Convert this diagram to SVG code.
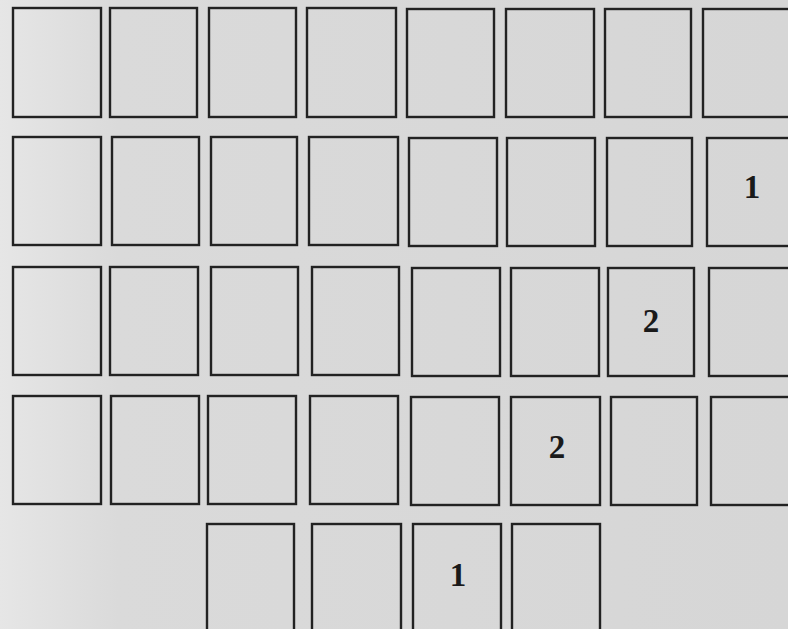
<svg xmlns="http://www.w3.org/2000/svg" width="788" height="629" viewBox="0 0 788 629">
<defs>
<linearGradient id="bg" x1="0" y1="0" x2="1" y2="0">
<stop offset="0" stop-color="#e6e6e6"/>
<stop offset="0.15" stop-color="#dadada"/>
<stop offset="1" stop-color="#d6d6d6"/>
</linearGradient>
</defs>
<style>
.c{fill:none;stroke:#222;stroke-width:2.4}
.n{font-family:"Liberation Serif","Times New Roman",serif;font-weight:bold;font-size:33px;fill:#1a1a1a;text-anchor:middle}
</style>
<rect x="0" y="0" width="788" height="629" fill="url(#bg)"/>
<g id="row1">
<g id="r1c1"><rect class="c" x="13" y="8" width="88" height="109"/></g>
<g id="r1c2"><rect class="c" x="110" y="8" width="87" height="109"/></g>
<g id="r1c3"><rect class="c" x="209" y="8" width="87" height="109"/></g>
<g id="r1c4"><rect class="c" x="307" y="8" width="89" height="109"/></g>
<g id="r1c5"><rect class="c" x="407" y="9" width="87" height="108"/></g>
<g id="r1c6"><rect class="c" x="506" y="9" width="88" height="108"/></g>
<g id="r1c7"><rect class="c" x="605" y="9" width="86" height="108"/></g>
<g id="r1c8"><rect class="c" x="703" y="9" width="100" height="108"/></g>
</g>
<g id="row2">
<g id="r2c1"><rect class="c" x="13" y="137" width="88" height="108"/></g>
<g id="r2c2"><rect class="c" x="112" y="137" width="87" height="108"/></g>
<g id="r2c3"><rect class="c" x="211" y="137" width="86" height="108"/></g>
<g id="r2c4"><rect class="c" x="309" y="137" width="89" height="108"/></g>
<g id="r2c5"><rect class="c" x="409" y="138" width="88" height="108"/></g>
<g id="r2c6"><rect class="c" x="507" y="138" width="88" height="108"/></g>
<g id="r2c7"><rect class="c" x="607" y="138" width="85" height="108"/></g>
<g id="r2c8"><rect class="c" x="707" y="138" width="100" height="108"/><text class="n" x="752" y="198">1</text></g>
</g>
<g id="row3">
<g id="r3c1"><rect class="c" x="13" y="267" width="88" height="108"/></g>
<g id="r3c2"><rect class="c" x="110" y="267" width="88" height="108"/></g>
<g id="r3c3"><rect class="c" x="211" y="267" width="87" height="108"/></g>
<g id="r3c4"><rect class="c" x="312" y="267" width="87" height="108"/></g>
<g id="r3c5"><rect class="c" x="412" y="268" width="88" height="108"/></g>
<g id="r3c6"><rect class="c" x="511" y="268" width="88" height="108"/></g>
<g id="r3c7"><rect class="c" x="608" y="268" width="86" height="108"/><text class="n" x="651" y="332">2</text></g>
<g id="r3c8"><rect class="c" x="709" y="268" width="100" height="108"/></g>
</g>
<g id="row4">
<g id="r4c1"><rect class="c" x="13" y="396" width="88" height="108"/></g>
<g id="r4c2"><rect class="c" x="111" y="396" width="88" height="108"/></g>
<g id="r4c3"><rect class="c" x="208" y="396" width="88" height="108"/></g>
<g id="r4c4"><rect class="c" x="310" y="396" width="88" height="108"/></g>
<g id="r4c5"><rect class="c" x="411" y="397" width="88" height="108"/></g>
<g id="r4c6"><rect class="c" x="511" y="397" width="89" height="108"/><text class="n" x="557" y="458">2</text></g>
<g id="r4c7"><rect class="c" x="611" y="397" width="86" height="108"/></g>
<g id="r4c8"><rect class="c" x="711" y="397" width="100" height="108"/></g>
</g>
<g id="row5">
<g id="r5c1"><rect class="c" x="207" y="524" width="87" height="120"/></g>
<g id="r5c2"><rect class="c" x="312" y="524" width="89" height="120"/></g>
<g id="r5c3"><rect class="c" x="413" y="524" width="88" height="120"/><text class="n" x="458" y="586">1</text></g>
<g id="r5c4"><rect class="c" x="512" y="524" width="88" height="120"/></g>
</g>
<g id="connectors"/>
</svg>
